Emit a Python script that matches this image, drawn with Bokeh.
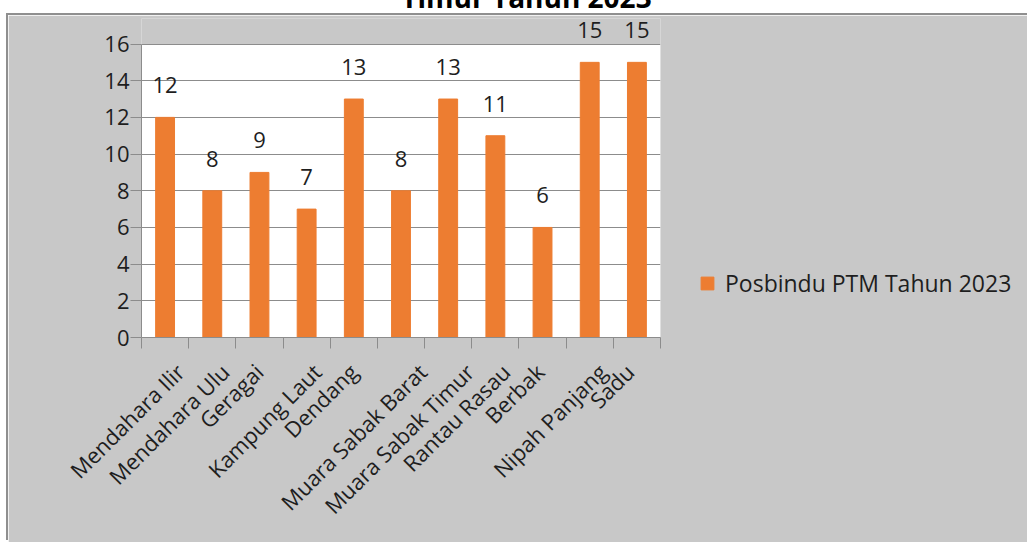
from math import pi
from bokeh.plotting import figure
from bokeh.models import (ColumnDataSource, Range1d, LinearAxis, FixedTicker, LabelSet,
                          Legend, LegendItem, Div, Spacer)
from bokeh.core.properties import value
from bokeh.layouts import column, row
from bokeh.embed import file_html
from bokeh.resources import INLINE

categories = ["Mendahara Ilir", "Mendahara Ulu", "Geragai", "Kampung Laut", "Dendang",
              "Muara Sabak Barat", "Muara Sabak Timur", "Rantau Rasau", "Berbak",
              "Nipah Panjang", "Sadu"]
posbindu_2023 = [12, 8, 9, 7, 13, 8, 13, 11, 6, 15, 15]
y_ticks = [0, 2, 4, 6, 8, 10, 12, 14, 16]
series_name = "Posbindu PTM Tahun 2023"
title_text = "Timur Tahun 2023"

FONT = "Open Sans"
ORANGE = "#ED7D31"
BG = "#C8C8C8"
GRID = "#8C8C8C"
TXT = "#1E1E1E"

# layout (pixels)
PAD_L = 8
FIG_W, FIG_H = 1019, 527
TOP, LEFT = 3, 133
FRAME_W, FRAME_H = 519, 319
PLOT_H = 293.5          # height of the white plot area (0..16) inside the frame

n = len(categories)
ymax = y_ticks[-1]
slot_px = FRAME_W / n
centers = [i + 0.5 for i in range(n)]
# Excel-like placement of the rotated category names (longer names sit further right)
label_ticks = [c + (2.2 * len(name) - 16) / slot_px for c, name in zip(centers, categories)]

source = ColumnDataSource(dict(x=centers, cat=categories, val=posbindu_2023,
                               lbl=[str(v) for v in posbindu_2023]))

p = figure(frame_width=FRAME_W, frame_height=FRAME_H, x_range=Range1d(0, n),
           y_range=Range1d(0, ymax * FRAME_H / PLOT_H),
           x_axis_location=None, y_axis_location="left",
           output_backend="svg", toolbar_location=None,
           min_border_left=LEFT, min_border_right=FIG_W - LEFT - FRAME_W,
           min_border_top=TOP, min_border_bottom=FIG_H - TOP - FRAME_H,
           styles={"box-shadow": "-2px -2px 0 #8f8f8f"})
p.background_fill_color = BG
p.border_fill_color = BG
p.outline_line_color = None

# white plot area
p.quad(left=[0], right=[n], bottom=[0], top=[ymax], fill_color="white", line_color=None,
       level="underlay")

p.yaxis.ticker = FixedTicker(ticks=y_ticks)
p.yaxis.bounds = (0, ymax)
p.yaxis.axis_line_color = GRID
p.yaxis.major_tick_line_color = GRID
p.yaxis.major_tick_out = 11
p.yaxis.major_tick_in = 0
p.yaxis.minor_tick_line_color = None
p.yaxis.major_label_text_font = FONT
p.yaxis.major_label_text_font_size = "22px"
p.yaxis.major_label_text_color = TXT
p.yaxis.major_label_standoff = 1

p.ygrid.ticker = FixedTicker(ticks=y_ticks)
p.ygrid.grid_line_color = GRID
p.ygrid.level = "underlay"
p.xgrid.visible = False

# boundary ticks between categories
slot_axis = LinearAxis(ticker=FixedTicker(ticks=list(range(n + 1))),
                       major_label_text_font_size="0px", major_label_standoff=0,
                       major_tick_out=11, major_tick_in=0, minor_tick_line_color=None,
                       axis_line_color=GRID, major_tick_line_color=GRID)
p.add_layout(slot_axis, "below")

# category names
cat_axis = LinearAxis(ticker=FixedTicker(ticks=label_ticks),
                      major_label_overrides={t: name for t, name in zip(label_ticks, categories)},
                      axis_line_color=None, major_tick_line_color=None,
                      minor_tick_line_color=None,
                      major_label_orientation=pi / 4,
                      major_label_text_font=FONT, major_label_text_font_size="22px",
                      major_label_text_color=TXT, major_label_standoff=13)
p.add_layout(cat_axis, "below")

bars = p.vbar(x="x", top="val", width=0.4, source=source,
              fill_color=ORANGE, line_color=ORANGE)

labels = LabelSet(x="x", y="val", text="lbl", source=source, text_align="center",
                  text_baseline="alphabetic", y_offset=24, text_font=value(FONT),
                  text_font_size="22px", text_color=TXT)
p.add_layout(labels)

legend = Legend(items=[LegendItem(label=series_name, renderers=[bars])],
                location=(39, 38), background_fill_alpha=0, border_line_color=None,
                padding=0, margin=0, glyph_width=16, glyph_height=16, label_standoff=10,
                label_text_font=FONT, label_text_font_size="23px", label_text_color=TXT)
p.add_layout(legend, "right")

title_div = Div(text=(f'<div style="position:relative; top:-22px; left:4px; width:{FIG_W}px; '
                      f'text-align:center; white-space:nowrap; font-family:\'Liberation Sans Narrow\', '
                      f'\'Open Sans\', sans-serif; font-weight:bold; font-size:28px; '
                      f'line-height:28px; color:#000;">{title_text}</div>'),
                width=FIG_W, height=5, styles={"overflow": "visible"})

layout = row(Spacer(width=PAD_L), column(title_div, p, spacing=0), spacing=0)

open("out.html", "w").write(file_html(layout, INLINE, title="Posbindu PTM Tahun 2023"))
